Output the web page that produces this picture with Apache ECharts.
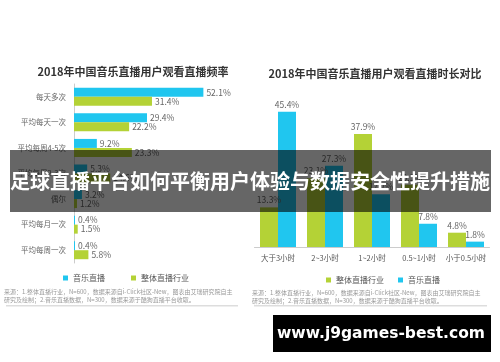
<!DOCTYPE html>
<html><head><meta charset="utf-8">
<script src="https://cdn.jsdelivr.net/npm/echarts@6/dist/echarts.min.js"></script>
<style>html,body{margin:0;padding:0;background:#fff}#c{width:500px;height:362px}</style>
</head><body><div id="c"></div>
<script>
const freqCats = ['每天多次','平均每天一次','平均每周4-5次','平均每周2-3次','偶尔','平均每月一次','平均每周一次'];
const freqMusic = [52.1,29.4,9.2,5.3,3.2,0.4,0.4];
const freqIndustry = [31.4,22.2,23.3,14.6,1.2,1.5,5.8];
const durCats = ['大于3小时','2~3小时','1~2小时','0.5~1小时','小于0.5小时'];
const durIndustry = [13.3,23.1,37.9,20.9,4.8];
const durMusic = [45.4,27.3,17.7,7.8,1.8];
const titles = ['2018年中国音乐直播用户观看直播频率','2018年中国音乐直播用户观看直播时长对比'];
const sourceLines = ['来源：1.整体直播行业，N=600，数据来源自i-Click社区-New，图表由艾瑞研究院自主','研究及绘制；2.音乐直播数据，N=300，数据来源于酷狗直播平台收取。'];
const bannerText = '足球直播平台如何平衡用户体验与数据安全性提升措施';
const watermark = 'www.j9games-best.com';

const BLUE = '#20c6ef', GREEN = '#b4d236';
const FONT = '"Noto Sans CJK SC", "Noto Sans", sans-serif';
const chart = echarts.init(document.getElementById('c'));
const lbl = {show:true, fontSize:8.5, color:'#666', formatter:'{c}%', distance:3};
chart.setOption({
  animation:false,
  textStyle:{fontFamily:FONT},
  title:[
    {text:titles[0], left:128, top:61, textAlign:'center', textStyle:{fontSize:11,fontWeight:'bold',color:'#333'}},
    {text:titles[1], left:370, top:63, textAlign:'center', textStyle:{fontSize:11,fontWeight:'bold',color:'#333'}}
  ],
  legend:[
    {data:['音乐直播','整体直播行业'], left:58, top:269, icon:'rect', itemWidth:5, itemHeight:5, itemGap:26, textStyle:{fontSize:8,color:'#555'}},
    {data:['整体直播行业','音乐直播'], left:321, top:271, icon:'rect', itemWidth:5, itemHeight:5, itemGap:14, textStyle:{fontSize:8,color:'#555'}}
  ],
  grid:[
    {left:74, top:84, width:149, height:179},
    {left:254.5, top:98, width:235, height:149}
  ],
  xAxis:[
    {gridIndex:0, type:'value', min:0, max:60, show:false},
    {gridIndex:1, type:'category', data:durCats, axisTick:{show:false}, axisLine:{lineStyle:{color:'#ccc'}}, axisLabel:{interval:0, fontSize:7.5,color:'#555',margin:7}}
  ],
  yAxis:[
    {gridIndex:0, type:'category', data:freqCats, inverse:true, axisTick:{show:false}, axisLine:{lineStyle:{color:'#ccc'}}, axisLabel:{interval:0, fontSize:7.5,color:'#666',margin:8}},
    {gridIndex:1, type:'value', min:0, max:50, show:false}
  ],
  series:[
    {name:'音乐直播', type:'bar', xAxisIndex:0, yAxisIndex:0, data:freqMusic, barWidth:9, barGap:'0%', itemStyle:{color:BLUE}, label:Object.assign({position:'right'},lbl)},
    {name:'整体直播行业', type:'bar', xAxisIndex:0, yAxisIndex:0, data:freqIndustry, barWidth:9, barGap:'0%', itemStyle:{color:GREEN}, label:Object.assign({position:'right'},lbl)},
    {name:'整体直播行业', type:'bar', xAxisIndex:1, yAxisIndex:1, data:durIndustry, barWidth:18, barGap:'0%', itemStyle:{color:GREEN}, label:Object.assign({position:'top'},lbl)},
    {name:'音乐直播', type:'bar', xAxisIndex:1, yAxisIndex:1, data:durMusic, barWidth:18, barGap:'0%', itemStyle:{color:BLUE}, label:Object.assign({position:'top'},lbl)}
  ],
  graphic:[
    {type:'text', left:4, top:289, style:{text:sourceLines[0], fontSize:6, fill:'#999', fontFamily:FONT}},
    {type:'text', left:4, top:297, style:{text:sourceLines[1], fontSize:6, fill:'#999', fontFamily:FONT}},
    {type:'rect', shape:{x:6,y:305,width:232,height:1.5}, style:{fill:'#ddd'}},
    {type:'text', left:252, top:290, style:{text:sourceLines[0], fontSize:6, fill:'#999', fontFamily:FONT}},
    {type:'text', left:252, top:298, style:{text:sourceLines[1], fontSize:6, fill:'#999', fontFamily:FONT}},
    {type:'rect', shape:{x:254,y:305,width:233,height:1.5}, style:{fill:'#ddd'}},
    {type:'rect', z:100, shape:{x:10,y:150,width:481,height:62}, style:{fill:'rgba(0,0,0,0.6)'}},
    {type:'text', z:101, x:250, y:181, style:{text:bannerText, fontSize:20, fontWeight:'bold', fill:'#fff', align:'center', verticalAlign:'middle', fontFamily:FONT}},
    {type:'rect', z:100, shape:{x:273,y:315,width:218,height:37}, style:{fill:'#000'}},
    {type:'text', z:101, x:381, y:334, style:{text:watermark, fontSize:15.5, fontWeight:'bold', fill:'#fff', align:'center', verticalAlign:'middle', fontFamily:'"DejaVu Sans", sans-serif'}}
  ]
});
</script></body></html>
